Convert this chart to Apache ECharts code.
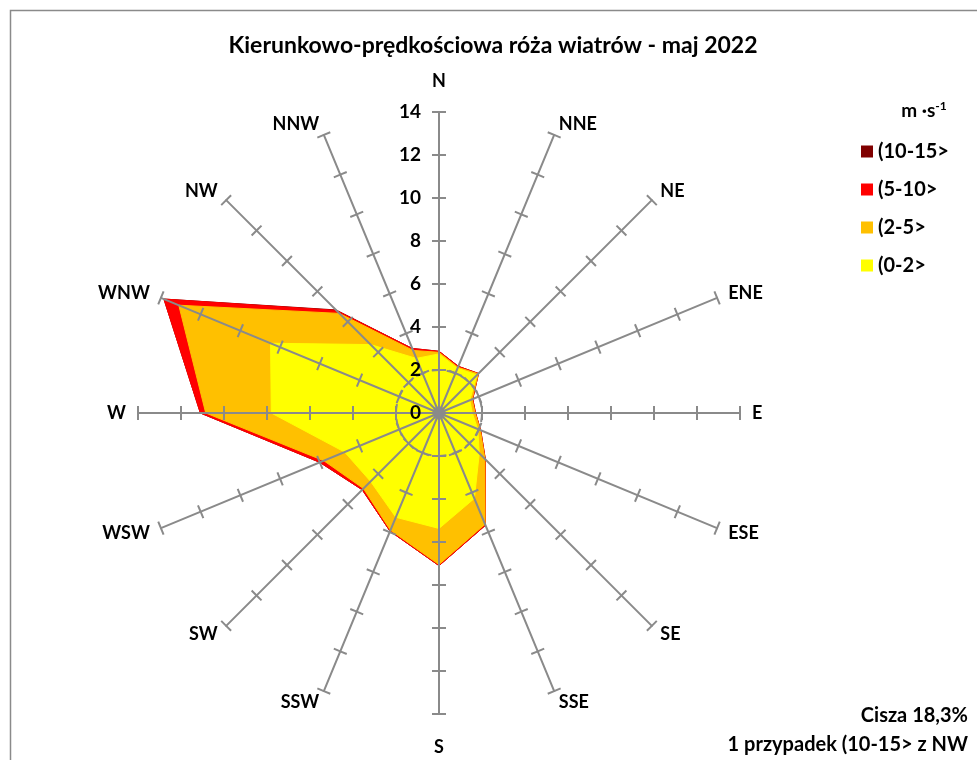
<!DOCTYPE html>
<html><head><meta charset="utf-8">
<script src="https://cdn.jsdelivr.net/npm/echarts@6/dist/echarts.min.js"></script>
<style>html,body{margin:0;padding:0;background:#fff}#c{width:977px;height:760px}</style>
</head><body><div id="c"></div>
<script>
// Compass directions (clockwise from N)
const directions = ['N','NNE','NE','ENE','E','ESE','SE','SSE','S','SSW','SW','WSW','W','WNW','NW','NNW'];
// Radial tick labels (frequency, %)
const radialTicks = [0, 2, 4, 6, 8, 10, 12, 14];
// Speed classes (legend order)
const speedClasses = ['(10-15>', '(5-10>', '(2-5>', '(0-2>'];
const classColors = ['#800000', '#FF0000', '#FFC000', '#FFFF00'];
// Plotted (cumulative) frequencies per direction
const cum0_2   = [2.75, 2.25, 2.50, 1.55, 1.55, 1.95, 2.65, 4.30, 5.37, 5.25, 4.50, 4.75, 7.80, 8.48, 4.50, 2.75];
const cum0_5   = [2.82, 2.30, 2.58, 1.67, 1.68, 2.08, 3.02, 5.60, 7.05, 5.90, 4.97, 5.80, 10.85, 13.10, 6.55, 3.15];
const cum0_10  = [2.87, 2.35, 2.60, 1.70, 1.70, 2.10, 3.05, 5.65, 7.10, 5.95, 5.05, 6.00, 11.10, 13.85, 6.75, 3.25];
const cum0_15  = [2.87, 2.35, 2.60, 1.70, 1.70, 2.10, 3.05, 5.65, 7.10, 5.95, 5.05, 6.00, 11.10, 13.85, 6.78, 3.25];
const titleText = 'Kierunkowo-prędkościowa róża wiatrów - maj 2022';
const unitText = 'm ·s{sup|-1}';
const noteLines = ['Cisza 18,3%', '1 przypadek (10-15> z NW'];

const FONT = 'Lato';
// ECharts radar runs counter-clockwise: reorder N, NNW, NW, ... NNE
const order = [0];
for (let i = directions.length - 1; i >= 1; i--) order.push(i);
const reorder = arr => order.map(i => arr[i]);

const maxV = radialTicks[radialTicks.length - 1];
const center = [439, 413];
const radius = 301;
const gray = '#8a8a8a';

const indicatorsMain = order.map((i, k) => {
  const o = { name: directions[i], max: maxV, min: 0 };
  if (k === 0) o.axisLabel = { show: true };
  return o;
});
const indicatorsPlain = order.map(i => ({ name: directions[i], max: maxV, min: 0 }));

const splitColors = radialTicks.map((t, i) => i === 1 ? gray : 'rgba(0,0,0,0)');
const nameFont = { color: '#000', fontFamily: FONT, fontWeight: 'bold', fontSize: 18 };

const chart = echarts.init(document.getElementById('c'));
chart.setOption({
  animation: false,
  backgroundColor: '#fff',
  title: [{
    text: titleText, left: 488, top: 29, textAlign: 'center',
    textStyle: { fontFamily: FONT, fontWeight: 'bold', fontSize: 23, color: '#000' }
  }, {
    text: unitText, left: 919, top: 95, textAlign: 'center',
    textStyle: { fontFamily: FONT, fontWeight: 'bold', fontSize: 19, color: '#000',
      rich: { sup: { fontFamily: FONT, fontWeight: 'bold', fontSize: 12, color: '#000', verticalAlign: 'top', padding: [0,0,9,0] } } }
  }],
  legend: {
    orient: 'vertical', left: 856, top: 135, itemWidth: 12, itemHeight: 12, itemGap: 15,
    icon: 'rect', data: speedClasses, selectedMode: false,
    textStyle: { fontFamily: FONT, fontWeight: 'bold', fontSize: 20, color: '#000', lineHeight: 23 }
  },
  graphic: [{
    type: 'rect', shape: { x: 10.5, y: 10.5, width: 1000, height: 1000 },
    style: { fill: 'none', stroke: gray, lineWidth: 1.5 }, z: -1, silent: true
  }, {
    type: 'text', right: 9, top: 706,
    style: { text: noteLines[0], align: 'right', font: 'bold 20px ' + FONT, fill: '#000' }
  }, {
    type: 'text', right: 9, top: 735,
    style: { text: noteLines[1], align: 'right', font: 'bold 20px ' + FONT, fill: '#000' }
  }],
  radar: [{
    center: center, radius: radius, startAngle: 90, shape: 'circle', z: 3,
    splitNumber: radialTicks.length - 1,
    indicator: indicatorsMain,
    axisName: Object.assign({}, nameFont, {
      formatter: function (v) {
        if (v === 'N') return '{up|' + v + '}';
        if (v === 'S') return '{down|' + v + '}';
        return v;
      },
      rich: {
        up: Object.assign({}, nameFont, { padding: [0, 0, 10, 0] }),
        down: Object.assign({}, nameFont, { padding: [12, 0, 0, 0] })
      }
    }),
    nameGap: 12,
    axisLine: { show: true, lineStyle: { color: gray, width: 2 } },
    axisTick: { show: true, length: 7, lineStyle: { color: gray, width: 2 } },
    axisLabel: { show: false, margin: 18, color: '#000', fontFamily: FONT, fontWeight: 'bold', fontSize: 19 },
    splitLine: { show: true, lineStyle: { color: splitColors, width: 2, type: [9, 6] } },
    splitArea: { show: false }
  }, {
    center: center, radius: radius, startAngle: 90, shape: 'circle', z: 3,
    splitNumber: radialTicks.length - 1,
    indicator: indicatorsPlain,
    axisName: { show: false },
    axisLine: { show: false },
    axisTick: { show: true, length: -7, lineStyle: { color: gray, width: 2 } },
    axisLabel: { show: false },
    splitLine: { show: false },
    splitArea: { show: false }
  }],
  series: [{
    type: 'radar', radarIndex: 0, symbol: 'none', z: 2,
    data: [
      { name: speedClasses[0], value: reorder(cum0_15), itemStyle: { color: classColors[0] }, lineStyle: { color: classColors[0], width: 1 }, areaStyle: { color: classColors[0], opacity: 1 } },
      { name: speedClasses[1], value: reorder(cum0_10), itemStyle: { color: classColors[1] }, lineStyle: { color: classColors[1], width: 1 }, areaStyle: { color: classColors[1], opacity: 1 } },
      { name: speedClasses[2], value: reorder(cum0_5), itemStyle: { color: classColors[2] }, lineStyle: { color: classColors[2], width: 1 }, areaStyle: { color: classColors[2], opacity: 1 } },
      { name: speedClasses[3], value: reorder(cum0_2), itemStyle: { color: classColors[3] }, lineStyle: { color: classColors[3], width: 1 }, areaStyle: { color: classColors[3], opacity: 1 } }
    ]
  }]
});
</script>
</body></html>
